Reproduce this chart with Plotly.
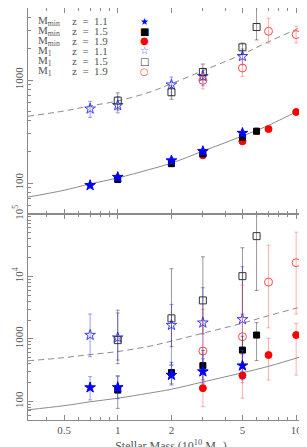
import plotly.graph_objects as go

# ---- fit curves ----
fit_x = [0.314, 0.5, 0.7, 1, 1.5, 2, 3, 5, 7, 10, 12.6]
fit_mmin = [73, 85, 98, 112, 135, 156, 204, 286, 363, 490, 598]
fit_m1 = [445, 500, 560, 626, 760, 920, 1230, 1780, 2350, 3100, 3720]

# ---- x positions per series ----
x_z11 = [0.7, 1, 2, 3, 5]
x_z15 = [1, 2, 3, 5, 6]
x_z19 = [3, 5, 7, 10]

# ---- top panel values ----
top_mmin11 = [95, 114, 165, 203, 305]
top_mmin11_lo = [89, 107, 155, 191, 290]
top_mmin11_hi = [101, 121, 176, 215, 322]
top_mmin15 = [108, 154, 192, 278, 318]
top_mmin15_lo = [102, 146, 182, 264, 298]
top_mmin15_hi = [114, 163, 203, 292, 342]
top_mmin19 = [186, 254, 334, 489]
top_mmin19_lo = [176, 240, 316, 465]
top_mmin19_hi = [197, 268, 352, 515]
top_m1_11 = [526, 568, 900, 1086, 1700]
top_m1_11_lo = [434, 480, 705, 880, 1400]
top_m1_11_hi = [621, 690, 1070, 1300, 2000]
top_m1_15 = [630, 760, 1196, 2076, 3270]
top_m1_15_lo = [510, 650, 1000, 1760, 2450]
top_m1_15_hi = [750, 880, 1430, 2290, 6000]
top_m1_19 = [993, 1308, 2970, 2760]
top_m1_19_lo = [820, 1085, 2290, 2290]
top_m1_19_hi = [1180, 1574, 3990, 3330]

# ---- bottom panel values ----
bot_mmin11 = [166, 167, 263, 299, 372]
bot_mmin11_lo = [105, 110, 182, 190, 220]
bot_mmin11_hi = [248, 250, 380, 480, 650]
bot_mmin15 = [151, 288, 372, 661, 1150]
bot_mmin15_lo = [77, 190, 220, 350, 448]
bot_mmin15_hi = [257, 420, 650, 1100, 1815]
bot_mmin19 = [162, 258, 551, 1150]
bot_mmin19_lo = [82, 112, 219, 263]
bot_mmin19_hi = [330, 560, 1020, 1770]
bot_m1_11 = [1150, 1045, 1660, 1815, 2050]
bot_m1_11_lo = [519, 457, 380, 300, 300]
bot_m1_11_hi = [2500, 2600, 3560, 6590, 14300]
bot_m1_15 = [954, 2130, 4130, 10100, 44200]
bot_m1_15_lo = [400, 750, 1200, 2500, 5970]
bot_m1_15_hi = [2880, 13300, 20600, 28800, 200000]
bot_m1_19 = [638, 1084, 8110, 16600]
bot_m1_19_lo = [200, 200, 1500, 2500]
bot_m1_19_hi = [2960, 7250, 31600, 51200]

# ---- ticks ----
x_tickvals = [0.5, 1, 2, 5, 10]
x_ticktext = ["0.5", "1", "2", "5", "10"]
x_minor = [0.4, 0.6, 0.7, 0.8, 0.9, 3, 4, 6, 7, 8, 9]
top_y_tickvals = [100, 1000]
top_y_ticktext = ["100", "1000"]
bot_y_tickvals = [100, 1000, 10000, 100000]
bot_y_ticktext = ["100", "1000", "10<sup>4</sup>", "10<sup>5</sup>"]
y_minor = [m * d for d in [10, 100, 1000, 10000] for m in range(2, 10)]

legend_labels = [("M<sub>min</sub>", "z  =  1.1"), ("M<sub>min</sub>", "z  =  1.5"),
                 ("M<sub>min</sub>", "z  =  1.9"), ("M<sub>1</sub>", "z  =  1.1"),
                 ("M<sub>1</sub>", "z  =  1.5"), ("M<sub>1</sub>", "z  =  1.9")]
legend_symbols = ["\u2605", "\u25A0", "\u25CF", "\u2606", "\u25A1", "\u25CB"]

BLUE = "#0000ff"
BLACK = "#000000"
RED = "#ff0000"
FONT = "Liberation Serif, Times New Roman, serif"
AX = "#8a8a8a"

fig = go.Figure()


def add(xs, ys, lo, hi, xa, ya, symbol, color, ecolor, size, lw=1):
    fig.add_trace(go.Scatter(
        x=xs, y=ys, xaxis=xa, yaxis=ya, mode="markers",
        marker=dict(symbol=symbol, color=color, size=size, line=dict(color=color, width=lw)),
        error_y=dict(type="data", symmetric=False,
                     array=[h - v for h, v in zip(hi, ys)],
                     arrayminus=[v - l for l, v in zip(lo, ys)],
                     color=ecolor, thickness=1, width=2),
        showlegend=False))


for ya, xa in [("y", "x"), ("y2", "x2")]:
    fig.add_trace(go.Scatter(x=fit_x, y=fit_mmin, xaxis=xa, yaxis=ya, mode="lines",
                             line=dict(color="#8c8c8c", width=1, shape="spline"), showlegend=False))
    fig.add_trace(go.Scatter(x=fit_x, y=fit_m1, xaxis=xa, yaxis=ya, mode="lines",
                             line=dict(color="#8c8c8c", width=1, dash="6px,4px", shape="spline"),
                             showlegend=False))

EB = "rgba(60,60,255,0.5)"
EK = "rgba(0,0,0,0.4)"
ER = "rgba(255,60,60,0.4)"

for pre, xa, ya in [("top", "x2", "y2"), ("bot", "x", "y")]:
    g = globals()
    add(x_z11, g[pre + "_m1_11"], g[pre + "_m1_11_lo"], g[pre + "_m1_11_hi"], xa, ya, "star-open", "#3a3aff", EB, 8)
    add(x_z15, g[pre + "_m1_15"], g[pre + "_m1_15_lo"], g[pre + "_m1_15_hi"], xa, ya, "square-open", "#333333", EK, 7)
    add(x_z19, g[pre + "_m1_19"], g[pre + "_m1_19_lo"], g[pre + "_m1_19_hi"], xa, ya, "circle-open", "#ff4a4a", ER, 8)
    add(x_z19, g[pre + "_mmin19"], g[pre + "_mmin19_lo"], g[pre + "_mmin19_hi"], xa, ya, "circle", RED, ER, 7)
    add(x_z15, g[pre + "_mmin15"], g[pre + "_mmin15_lo"], g[pre + "_mmin15_hi"], xa, ya, "square", BLACK, EK, 6)
    add(x_z11, g[pre + "_mmin11"], g[pre + "_mmin11_lo"], g[pre + "_mmin11_hi"], xa, ya, "star", BLUE, EB, 8)

common_x = dict(type="log", range=[-0.503, 1.1], showgrid=False, zeroline=False, automargin=False,
                showline=True, linecolor=AX, linewidth=1, mirror="ticks",
                ticks="inside", ticklen=5, tickcolor=AX,
                tickvals=x_tickvals, ticktext=x_ticktext,
                minor=dict(tickvals=x_minor, ticks="inside", ticklen=3, tickcolor=AX, showgrid=False))
common_y = dict(type="log", showgrid=False, zeroline=False, automargin=False,
                showline=True, linecolor=AX, linewidth=1, mirror="ticks",
                ticks="inside", ticklen=5, tickcolor=AX, tickangle=-90,
                tickfont=dict(family=FONT, size=11, color="#555555"),
                minor=dict(tickvals=y_minor, ticks="inside", ticklen=3, tickcolor=AX, showgrid=False))

fig.update_layout(
    width=307, height=447,
    margin=dict(l=20, r=1, t=0, b=35, autoexpand=False),
    paper_bgcolor="white", plot_bgcolor="white",
    font=dict(family=FONT, color="#555555"),
    xaxis=dict(**common_x, anchor="y", domain=[0, 1],
               tickfont=dict(family=FONT, size=11, color="#555555"),
               title=dict(text="Stellar Mass (10<sup>10</sup> M<sub>\u2299</sub>)",
                          font=dict(family=FONT, size=12, color="#555555"), standoff=10)),
    xaxis2=dict(**common_x, anchor="y2", matches="x", showticklabels=False),
    yaxis=dict(**common_y, anchor="x", domain=[0, 0.5], range=[1.7, 5.0],
               tickvals=bot_y_tickvals, ticktext=bot_y_ticktext),
    yaxis2=dict(**common_y, anchor="x2", domain=[0.5, 1], range=[1.699, 3.699],
                tickvals=top_y_tickvals, ticktext=top_y_ticktext),
)

sym_colors = [BLUE, BLACK, RED, "#3a3aff", "#333333", "#ff4a4a"]
row_y = [0.968, 0.944, 0.920, 0.896, 0.871, 0.847]
for (m, z), s, c, yy in zip(legend_labels, legend_symbols, sym_colors, row_y):
    fig.add_annotation(x=0.028, y=yy, xref="paper", yref="paper", text=m, showarrow=False,
                       xanchor="left", yanchor="middle", font=dict(family=FONT, size=11, color="#555555"))
    fig.add_annotation(x=0.147, y=yy, xref="paper", yref="paper", text=z, showarrow=False,
                       xanchor="left", yanchor="middle", font=dict(family=FONT, size=11, color="#555555"))
    fig.add_annotation(x=0.406, y=yy, xref="paper", yref="paper", text=s, showarrow=False,
                       xanchor="center", yanchor="middle", font=dict(family="DejaVu Sans", size=10, color=c))

fig.write_html("out.html")
